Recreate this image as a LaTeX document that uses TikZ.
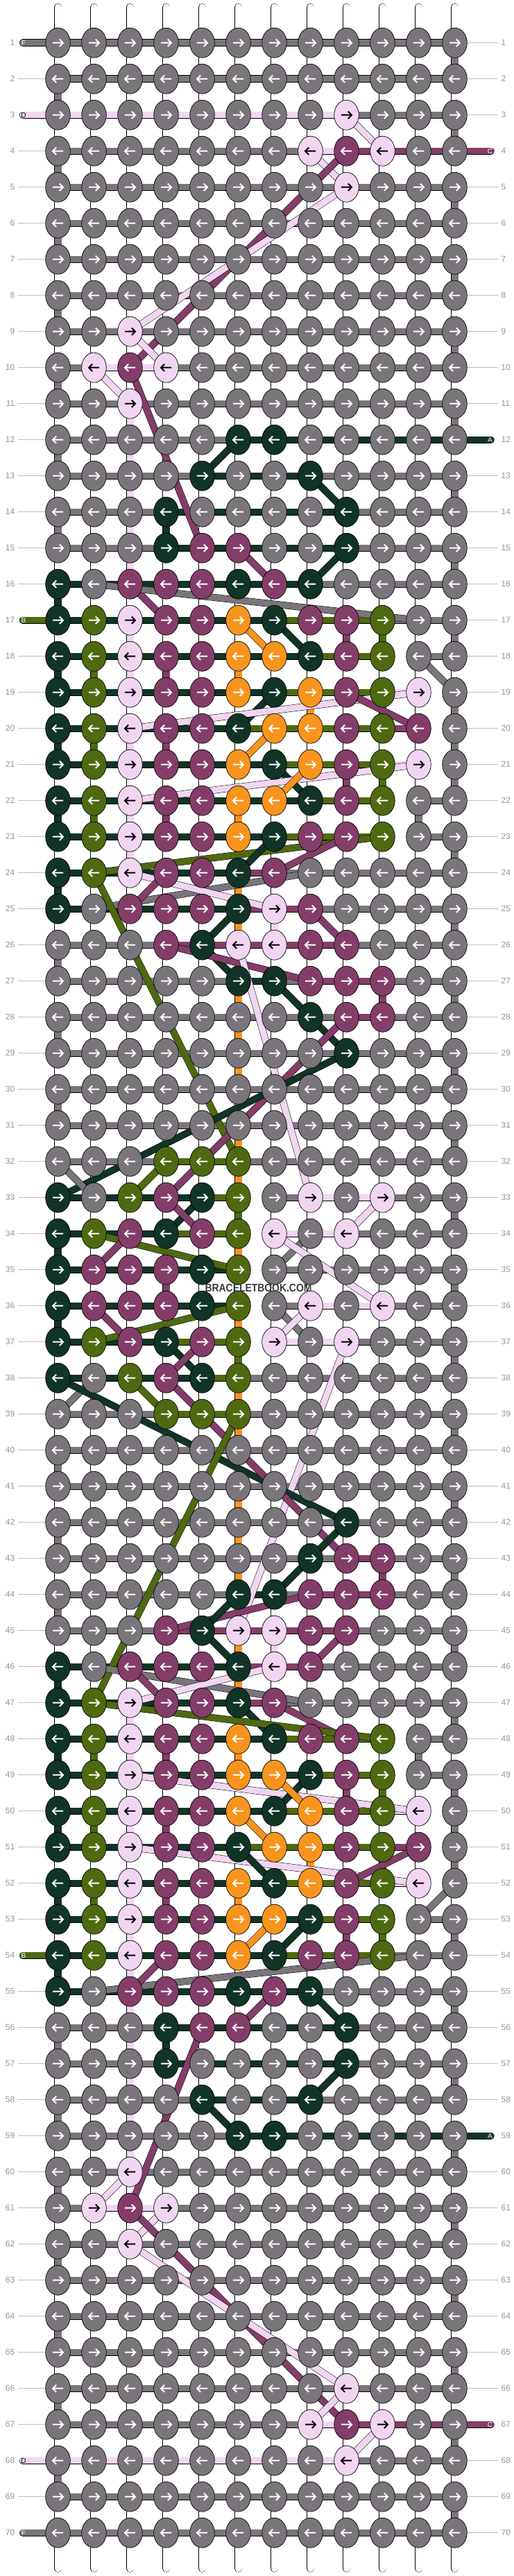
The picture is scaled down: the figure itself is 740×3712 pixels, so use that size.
\documentclass[tikz,border=0pt]{standalone}
\usepackage{fontspec}
\setmainfont{Liberation Sans}
\usetikzlibrary{shapes.geometric}
\definecolor{cG}{RGB}{122,117,122}
\definecolor{cK}{RGB}{16,52,38}
\definecolor{cO}{RGB}{79,105,17}
\definecolor{cP}{RGB}{241,214,241}
\definecolor{cM}{RGB}{132,61,104}
\definecolor{cY}{RGB}{247,148,29}
\definecolor{cNum}{RGB}{150,150,150}
\definecolor{cLine}{RGB}{190,190,190}
\definecolor{cWin}{RGB}{165,165,165}
\definecolor{cWm}{RGB}{60,60,60}
\newcount\bbci
\def\knotrow#1#2{\def\bbKr{#1}\bbci=0\relax\bbkloop#2\relax}
\def\bbkloop#1{\ifx\relax#1\else\advance\bbci by 1\relax\bbkn{#1}\expandafter\bbkloop\fi}
\def\bbkn#1{\edef\bbcc{\the\bbci}%
  \node[knot,fill=c#1] (k\bbKr-\bbcc) at (p\bbKr-\bbcc) {};%
  \ifx P#1\def\bbac{black}\else\def\bbac{white}\fi
  \ifodd\bbKr\relax
    \draw[arr,draw=\bbac] (k\bbKr-\bbcc.center) ++(-7.5,0) -- ++(15,0) ++(-5.2,-5.2) -- ++(5.2,5.2) -- ++(-5.2,5.2);%
  \else
    \draw[arr,draw=\bbac] (k\bbKr-\bbcc.center) ++(7.5,0) -- ++(-15,0) ++(5.2,-5.2) -- ++(-5.2,5.2) -- ++(5.2,5.2);%
  \fi}
\def\hrow#1#2{\def\bbHr{#1}\bbci=0\relax\bbhloop#2\relax}
\def\bbhloop#1{\ifx\relax#1\else\advance\bbci by 1\relax\bbhs{#1}\expandafter\bbhloop\fi}
\def\bbhs#1{\ifx.#1\else\edef\bbcc{\the\bbci}\edef\bbcn{\the\numexpr\bbci+1\relax}\draw[seg=c#1] (p\bbHr-\bbcc) -- (p\bbHr-\bbcn);\fi}
\def\vgap#1#2{\def\bbVr{#1}\edef\bbVn{\the\numexpr#1+1\relax}\bbci=0\relax\bbvloop#2\relax}
\def\bbvloop#1{\ifx\relax#1\else\advance\bbci by 1\relax\bbvs{#1}\expandafter\bbvloop\fi}
\def\bbvs#1{\edef\bbcc{\the\bbci}\ifx.#1\draw[warp] (p\bbVr-\bbcc) -- (p\bbVn-\bbcc);\draw[warpin] (p\bbVr-\bbcc) -- (p\bbVn-\bbcc);\else\draw[vseg=c#1] (p\bbVr-\bbcc) -- (p\bbVn-\bbcc);\fi}
\tikzset{
 knot/.style={ellipse,draw=black,line width=0.7pt,minimum width=35.6pt,minimum height=43pt,inner sep=0pt},
 arr/.style={line width=2pt},
 seg/.style={draw=black,line width=0.6pt,double=#1,double distance=9.2pt},
 vseg/.style={draw=black,line width=0.6pt,double=#1,double distance=10pt},
 warp/.style={draw=black,line width=0.6pt,double=white,double distance=10pt},
 warpin/.style={draw=cWin,line width=0.45pt,double=white,double distance=2.4pt},
 diag/.style={draw=black,line width=0.5pt,double=#1,double distance=9pt},
 stub/.style={draw=black,line width=0.6pt,double=#1,double distance=9.2pt,line cap=round},
 lab/.style={font=\fontsize{12}{12}\selectfont,text=cNum,inner sep=0pt},
 labline/.style={draw=cLine,line width=0.9pt},
 stubtxt/.style={font=\fontsize{10}{10}\selectfont,inner sep=0pt},
}
\begin{document}
\begin{tikzpicture}[x=1pt,y=-1pt]
\fill[white] (0,0) rectangle (740,3712);
\useasboundingbox (0,0) rectangle (740,3712);
\foreach \r in {1,...,70}{\foreach \c in {1,...,12}{\coordinate (p\r-\c) at ({83.5+52*(\c-1)},{61.7+52*(\r-1)});}}
\foreach \r in {1,...,70}{\pgfmathsetmacro\yy{61.7+52*(\r-1)}
 \coordinate (lq\r) at (26,\yy); \coordinate (rq\r) at (718,\yy);
 \coordinate (ls\r) at (33,\yy); \coordinate (rs\r) at (707.5,\yy);}
\foreach \c in {1,...,12}{
 \coordinate (t\c) at ({83.5+52*(\c-1)},10.5);
 \coordinate (b\c) at ({83.5+52*(\c-1)},3701);
 \draw[warp,line cap=round] (t\c) -- (p1-\c); \draw[warpin,line cap=round] (t\c) -- (p1-\c);
 \draw[warp,line cap=round] (b\c) -- (p70-\c); \draw[warpin,line cap=round] (b\c) -- (p70-\c);}
% vertical gaps
\vgap{1}{...........G}\vgap{2}{G...........}\vgap{3}{...........G}\vgap{4}{G...........}
\vgap{5}{...........G}\vgap{6}{G...........}\vgap{7}{...........G}\vgap{8}{G...........}
\vgap{9}{...........G}\vgap{10}{G...........}\vgap{11}{..P........G}\vgap{12}{G.P.........}
\vgap{13}{..P........G}\vgap{14}{G.PK........}\vgap{15}{..P........G}\vgap{16}{K...........}
\vgap{17}{..P.....MO.G}\vgap{18}{KOPM.Y......}\vgap{19}{.......Y.O.G}\vgap{20}{KOPM.......G}
\vgap{21}{........MO.G}\vgap{22}{KOPM.Y....G.}\vgap{23}{..P........G}\vgap{24}{K....Y......}
\vgap{25}{.....YP....G}\vgap{26}{G...........}\vgap{27}{.....Y...M.G}\vgap{28}{G....Y......}
\vgap{29}{.....Y.....G}\vgap{30}{G...........}\vgap{31}{.....Y.....G}\vgap{32}{.....Y......}
\vgap{33}{.....O.....G}\vgap{34}{K....Y......}\vgap{35}{...M.......G}\vgap{36}{K....Y......}
\vgap{37}{.....O.....G}\vgap{38}{.....Y......}\vgap{39}{.....Y.....G}\vgap{40}{G...........}
\vgap{41}{.....Y.....G}\vgap{42}{G....Y......}\vgap{43}{.....Y...M.G}\vgap{44}{G...........}
\vgap{45}{.....YP....G}\vgap{46}{K....Y......}\vgap{47}{..P........G}\vgap{48}{KOPM.Y....G.}
\vgap{49}{........MO.G}\vgap{50}{KOPM.......G}\vgap{51}{.......Y.O.G}\vgap{52}{KOPM.Y......}
\vgap{53}{..P.....MO.G}\vgap{54}{K.P.........}\vgap{55}{..P........G}\vgap{56}{G.PK........}
\vgap{57}{..P........G}\vgap{58}{G.P.........}\vgap{59}{..P........G}\vgap{60}{G...........}
\vgap{61}{...........G}\vgap{62}{G...........}\vgap{63}{...........G}\vgap{64}{G...........}
\vgap{65}{...........G}\vgap{66}{G...........}\vgap{67}{...........G}\vgap{68}{G...........}
\vgap{69}{...........G}
% horizontal segments
\hrow{1}{GGGGGGGGGGG}\hrow{2}{GGGGGGGGGGG}\hrow{3}{PPPPPPPPGGG}\hrow{4}{GGGGGGGPMMM}
\hrow{5}{GGGGGGGGGGG}\hrow{6}{GGGGGGGGGGG}\hrow{7}{GGGGGGGGGGG}\hrow{8}{GGGGGGGGGGG}
\hrow{9}{GGGGGGGGGGG}\hrow{10}{GPPGGGGGGGG}\hrow{11}{GGGGGGGGGGG}\hrow{12}{GGGGGKKKKKK}
\hrow{13}{GGGGKKKGGGG}\hrow{14}{GGGKKKKKGGG}\hrow{15}{GGGKKKKKGGG}\hrow{16}{KKKKKKKGGGG}
\hrow{17}{KKKKKKOOOGG}\hrow{18}{KKKKKKKOO.G}\hrow{19}{KKKKKKOOOP.}\hrow{20}{KKKKKOOOOM.}
\hrow{21}{KKKKKKOOOP.}\hrow{22}{KKKKKKKOO.G}\hrow{23}{KKKKKKOOO.G}\hrow{24}{KKKKKMGGGGG}
\hrow{25}{KKKKKMMGGGG}\hrow{26}{GGGMMMMMGGG}\hrow{27}{GGGGGKGMMGG}\hrow{28}{GGGGGGGGMGG}
\hrow{29}{GGGGGGGGGGG}\hrow{30}{GGGGGGGGGGG}\hrow{31}{GGGGGGGGGGG}\hrow{32}{GGGOOGGGGGG}
\hrow{33}{KKKKO.GPPGG}\hrow{34}{KKKOO.PPGGG}\hrow{35}{KKKKK.GGGGG}\hrow{36}{KKKKK.GPPGG}
\hrow{37}{KKKOO.PPGGG}\hrow{38}{KKKKOGGGGGG}\hrow{39}{GGGOOGGGGGG}\hrow{40}{GGGGGGGGGGG}
\hrow{41}{GGGGGGGGGGG}\hrow{42}{GGGGGGGGGGG}\hrow{43}{GGGGGGGGMGG}\hrow{44}{GGGGGKGMMGG}
\hrow{45}{GGGMMMMMGGG}\hrow{46}{KKKKKMMGGGG}\hrow{47}{KKKKKMGGGGG}\hrow{48}{KKKKKKOOO.G}
\hrow{49}{KKKKKKKOO.G}\hrow{50}{KKKKKKOOOP.}\hrow{51}{KKKKKOOOOM.}\hrow{52}{KKKKKKOOOP.}
\hrow{53}{KKKKKKKOO.G}\hrow{54}{KKKKKKOOOGG}\hrow{55}{KKKKKKKGGGG}\hrow{56}{GGGKKKKKGGG}
\hrow{57}{GGGKKKKKGGG}\hrow{58}{GGGGKKKGGGG}\hrow{59}{GGGGGKKKKKK}\hrow{60}{GGGGGGGGGGG}
\hrow{61}{GPPGGGGGGGG}\hrow{62}{GGGGGGGGGGG}\hrow{63}{GGGGGGGGGGG}\hrow{64}{GGGGGGGGGGG}
\hrow{65}{GGGGGGGGGGG}\hrow{66}{GGGGGGGGGGG}\hrow{67}{GGGGGGGPMMM}\hrow{68}{PPPPPPPPGGG}
\hrow{69}{GGGGGGGGGGG}\hrow{70}{GGGGGGGGGGG}
% string ends
\foreach \rr/\sc/\sl/\tc in {1/G/F/white,3/P/D/black,17/O/B/white,54/O/B/white,68/P/D/black,70/G/F/white}{
 \draw[stub=c\sc] (ls\rr) -- (p\rr-1);
 \node[stubtxt,text=\tc] (lt\rr) at ([xshift=1pt]ls\rr) {\sl};}
\foreach \rr/\sc/\sl in {4/M/C,12/K/A,59/K/A,67/M/C}{
 \draw[stub=c\sc] (p\rr-12) -- (rs\rr);
 \node[stubtxt,text=white] (rt\rr) at ([xshift=-1pt]rs\rr) {\sl};}
% diagonals
\foreach \ra/\ca/\rb/\cb/\co in {3/9/4/10/P,4/8/5/9/P,4/9/10/3/M,5/9/9/3/P,9/3/10/4/P,10/2/11/3/P,10/3/15/5/M,
 12/6/13/5/K,13/8/14/9/K,15/9/16/8/K,15/6/16/7/M,16/3/17/4/M,16/2/17/11/G,17/6/18/7/Y,17/7/18/8/K,
 18/11/19/12/G,19/7/20/6/K,19/11/20/3/P,19/9/20/11/M,20/7/21/6/Y,21/7/22/8/K,21/11/22/3/P,21/8/22/7/Y,
 23/10/24/2/O,23/7/24/6/K,23/9/24/7/M,24/8/25/2/G,24/3/25/7/P,24/4/25/3/M,24/2/32/6/O,25/6/26/5/K,
 25/8/26/9/M,26/5/27/6/K,26/4/27/8/M,26/6/33/8/P,27/7/28/8/K,28/8/29/9/K,28/9/33/4/M,29/9/33/1/K,
 32/1/33/2/G,32/4/33/3/O,33/5/34/4/K,33/4/34/5/M,33/10/34/9/P,34/2/35/6/O,34/3/35/2/M,34/8/35/7/G,
 34/7/36/10/P,36/7/37/8/G,36/8/37/7/P,36/6/37/2/O,36/2/37/3/M,37/4/38/5/K,37/5/38/4/M,37/9/45/6/P,
 38/2/39/1/G,38/1/42/9/K,38/3/39/4/O,38/4/43/9/M,39/6/47/2/O,42/9/43/8/K,43/8/44/7/K,44/8/45/4/M,
 44/6/45/5/K,45/5/46/6/K,45/9/46/8/M,46/2/47/8/G,46/7/47/3/P,46/3/47/4/M,47/7/48/9/M,47/6/48/7/K,
 47/2/48/10/O,49/3/50/11/P,49/8/50/7/K,49/7/50/8/Y,50/6/51/7/Y,51/3/52/11/P,51/6/52/7/K,51/11/52/9/M,
 52/12/53/11/G,53/7/54/6/Y,53/8/54/7/K,54/11/55/2/G,54/4/55/3/M,55/7/56/6/M,55/8/56/9/K,56/5/61/3/M,
 57/9/58/8/K,58/5/59/6/K,60/3/61/2/P,61/4/62/3/P,61/3/67/9/M,62/3/66/9/P,66/9/67/8/P,67/10/68/9/P}{
 \draw[diag=c\co] (p\ra-\ca) -- (p\rb-\cb);}
% knots
\knotrow{1}{GGGGGGGGGGGG}\knotrow{2}{GGGGGGGGGGGG}\knotrow{3}{GGGGGGGGPGGG}\knotrow{4}{GGGGGGGPMPGG}
\knotrow{5}{GGGGGGGGPGGG}\knotrow{6}{GGGGGGGGGGGG}\knotrow{7}{GGGGGGGGGGGG}\knotrow{8}{GGGGGGGGGGGG}
\knotrow{9}{GGPGGGGGGGGG}\knotrow{10}{GPMPGGGGGGGG}\knotrow{11}{GGPGGGGGGGGG}\knotrow{12}{GGGGGKKGGGGG}
\knotrow{13}{GGGGKGGKGGGG}\knotrow{14}{GGGKGGGGKGGG}\knotrow{15}{GGGKMMGGKGGG}\knotrow{16}{KGMMMKMKGGGG}
\knotrow{17}{KOPMMYKMMOGG}\knotrow{18}{KOPMMYYKMOGG}\knotrow{19}{KOPMMYKYMOPG}\knotrow{20}{KOPMMKYYMOMG}
\knotrow{21}{KOPMMYKYMOPG}\knotrow{22}{KOPMMYYKMOGG}\knotrow{23}{KOPMMYKMMOGG}\knotrow{24}{KOPMMKMGGGGG}
\knotrow{25}{KGMMMKPMGGGG}\knotrow{26}{GGGMKPPMMGGG}\knotrow{27}{GGGGGKKMMMGG}\knotrow{28}{GGGGGGGKMMGG}
\knotrow{29}{GGGGGGGGKGGG}\knotrow{30}{GGGGGGGGGGGG}\knotrow{31}{GGGGGGGGGGGG}\knotrow{32}{GGGOOOGGGGGG}
\knotrow{33}{KGOMKOGPGPGG}\knotrow{34}{KOMKMOPGPGGG}\knotrow{35}{KMMMKOGGGGGG}\knotrow{36}{KMMMKOGPGPGG}
\knotrow{37}{KOMKMOPGPGGG}\knotrow{38}{KGOMKOGGGGGG}\knotrow{39}{GGGOOOGGGGGG}\knotrow{40}{GGGGGGGGGGGG}
\knotrow{41}{GGGGGGGGGGGG}\knotrow{42}{GGGGGGGGKGGG}\knotrow{43}{GGGGGGGKMMGG}\knotrow{44}{GGGGGKKMMMGG}
\knotrow{45}{GGGMKPPMMGGG}\knotrow{46}{KGMMMKPMGGGG}\knotrow{47}{KOPMMKMGGGGG}\knotrow{48}{KOPMMYKMMOGG}
\knotrow{49}{KOPMMYYKMOGG}\knotrow{50}{KOPMMYKYMOPG}\knotrow{51}{KOPMMKYYMOMG}\knotrow{52}{KOPMMYKYMOPG}
\knotrow{53}{KOPMMYYKMOGG}\knotrow{54}{KOPMMYKMMOGG}\knotrow{55}{KGMMMKMKGGGG}\knotrow{56}{GGGKMMGGKGGG}
\knotrow{57}{GGGKGGGGKGGG}\knotrow{58}{GGGGKGGKGGGG}\knotrow{59}{GGGGGKKGGGGG}\knotrow{60}{GGPGGGGGGGGG}
\knotrow{61}{GPMPGGGGGGGG}\knotrow{62}{GGPGGGGGGGGG}\knotrow{63}{GGGGGGGGGGGG}\knotrow{64}{GGGGGGGGGGGG}
\knotrow{65}{GGGGGGGGGGGG}\knotrow{66}{GGGGGGGGPGGG}\knotrow{67}{GGGGGGGPMPGG}\knotrow{68}{GGGGGGGGPGGG}
\knotrow{69}{GGGGGGGGGGGG}\knotrow{70}{GGGGGGGGGGGG}
% labels
\foreach \r in {1,...,70}{\pgfmathsetmacro\yy{61.7+52*(\r-1)}
 \node[lab,anchor=east] (ln\r) at (21.5,\yy) {\r};
 \node[lab,anchor=west] (rn\r) at (722.5,\yy) {\r};}
\foreach \r in {2,4,5,6,7,8,9,10,11,12,13,14,15,16}{\draw[labline] (lq\r) -- (k\r-1.west);}
\foreach \r in {18,...,53}{\draw[labline] (lq\r) -- (k\r-1.west);}
\foreach \r in {55,...,67}{\draw[labline] (lq\r) -- (k\r-1.west);}
\draw[labline] (lq69) -- (k69-1.west);
\foreach \r in {1,2,3,5,6,7,8,9,10,11}{\draw[labline] (k\r-12.east) -- (rq\r);}
\foreach \r in {13,...,58}{\draw[labline] (k\r-12.east) -- (rq\r);}
\foreach \r in {60,...,66}{\draw[labline] (k\r-12.east) -- (rq\r);}
\foreach \r in {68,69,70}{\draw[labline] (k\r-12.east) -- (rq\r);}
\node[font=\bfseries\fontsize{16}{16}\selectfont,text=cWm,inner sep=0pt] (wm) at (372.5,1856) {\scalebox{0.87}[1]{BRACELETBOOK.COM}};
\end{tikzpicture}
\end{document}
